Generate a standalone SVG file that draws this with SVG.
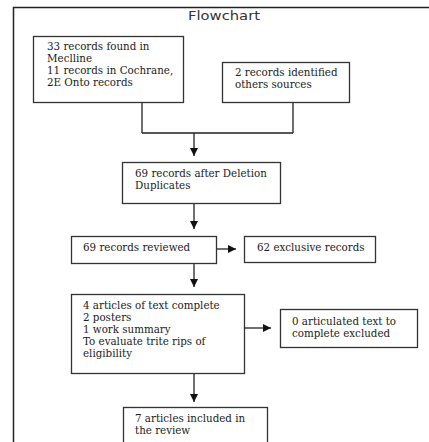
<svg xmlns="http://www.w3.org/2000/svg" width="429" height="442" viewBox="0 0 429 442">
<defs>
<style>
.box{fill:#fff;stroke:#333;stroke-width:1.3}
.t{font-family:"DejaVu Serif","Liberation Serif",serif;font-size:10.3px;fill:#222}
.ttl{font-family:"DejaVu Sans","Liberation Sans",sans-serif;font-size:12.5px;fill:#333}
.c{fill:none;stroke:#222;stroke-width:1.3}
</style>
<marker id="ah" viewBox="0 0 10 10" refX="10" refY="5" markerWidth="8" markerHeight="8" markerUnits="userSpaceOnUse" orient="auto">
<path d="M0,0L10,5L0,10z" fill="#111"/>
</marker>
</defs>
<rect width="429" height="442" fill="#fff"/>
<g id="frame">
<path d="M13.5,442V7.5H429" fill="none" stroke="#222" stroke-width="1.5"/>
<text class="ttl" x="188" y="20" textLength="72" lengthAdjust="spacingAndGlyphs">Flowchart</text>
</g>
<g id="connectors">
<path class="c" d="M142,102V133M293,102V133M142,133H293"/>
<path class="c" d="M194,133V156" marker-end="url(#ah)"/>
<path class="c" d="M194,203V229" marker-end="url(#ah)"/>
<path class="c" d="M217,249H236" marker-end="url(#ah)"/>
<path class="c" d="M194,263V287" marker-end="url(#ah)"/>
<path class="c" d="M245,328H271" marker-end="url(#ah)"/>
<path class="c" d="M194,373V402" marker-end="url(#ah)"/>
</g>
<g id="n1">
<rect class="box" x="33.5" y="36.5" width="150" height="66"/>
<text class="t" x="47" y="50">33 records found in</text>
<text class="t" x="47" y="62">Meclline</text>
<text class="t" x="47" y="74">11 records in Cochrane,</text>
<text class="t" x="47" y="86">2E Onto records</text>
</g>
<g id="n2">
<rect class="box" x="222.5" y="62.5" width="127" height="40"/>
<text class="t" x="235" y="76">2 records identified</text>
<text class="t" x="235" y="88">others sources</text>
</g>
<g id="n3">
<rect class="box" x="122.5" y="162.5" width="158" height="41"/>
<text class="t" x="135" y="177">69 records after Deletion</text>
<text class="t" x="135" y="189">Duplicates</text>
</g>
<g id="n4">
<rect class="box" x="71.5" y="236.5" width="145" height="27"/>
<text class="t" x="83" y="251">69 records reviewed</text>
</g>
<g id="n5">
<rect class="box" x="244.5" y="236.5" width="131" height="26"/>
<text class="t" x="257" y="251">62 exclusive records</text>
</g>
<g id="n6">
<rect class="box" x="71.5" y="294.5" width="173" height="79"/>
<text class="t" x="83" y="309">4 articles of text complete</text>
<text class="t" x="83" y="321">2 posters</text>
<text class="t" x="83" y="333">1 work summary</text>
<text class="t" x="83" y="345">To evaluate trite rips of</text>
<text class="t" x="83" y="357">eligibility</text>
</g>
<g id="n7">
<rect class="box" x="280.5" y="309.5" width="137" height="38"/>
<text class="t" x="292" y="325">0 articulated text to</text>
<text class="t" x="292" y="337">complete excluded</text>
</g>
<g id="n8">
<rect class="box" x="123.5" y="407.5" width="144" height="50"/>
<text class="t" x="135" y="422">7 articles included in</text>
<text class="t" x="135" y="434">the review</text>
</g>
</svg>
